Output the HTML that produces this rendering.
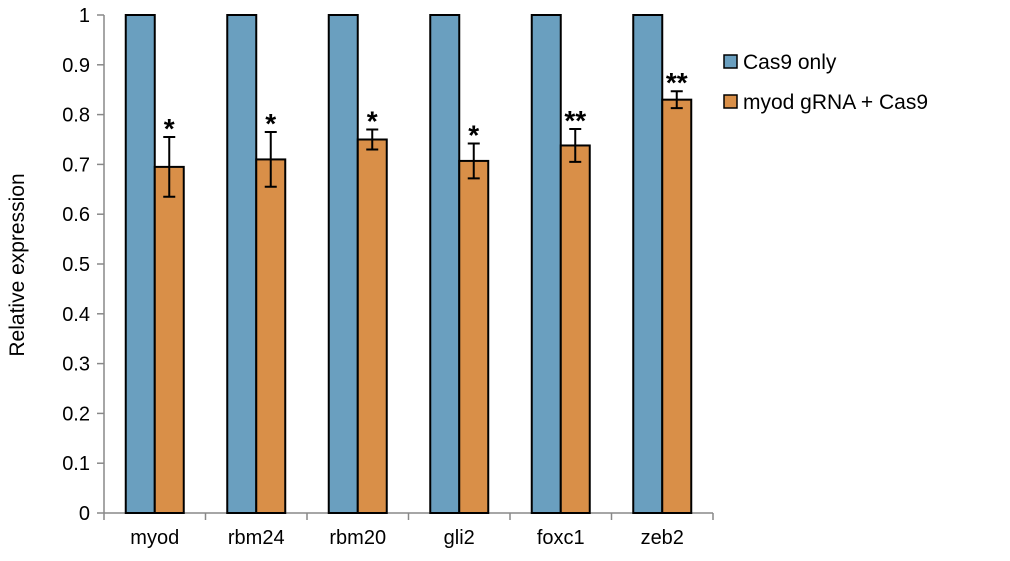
<!DOCTYPE html>
<html><head><meta charset="utf-8"><style>
body{margin:0;background:#fff}
svg text{font-family:"Liberation Sans",Arial,sans-serif;fill:#000}
</style></head><body>
<svg id="c" width="1010" height="556"></svg>
<script>
const categories=["myod","rbm24","rbm20","gli2","foxc1","zeb2"];
const cas9Values=[1,1,1,1,1,1];
const gRNAValues=[0.695,0.71,0.75,0.707,0.738,0.83];
const gRNAErrors=[0.06,0.055,0.02,0.035,0.033,0.017];
const sigLabels=["*","*","*","*","**","**"];
const yTicks=[0,0.1,0.2,0.3,0.4,0.5,0.6,0.7,0.8,0.9,1];
const NS="http://www.w3.org/2000/svg";
const svg=document.getElementById('c');
const x0=104,x1=713,yTop=15,yBot=513;
const y=v=>yBot-(yBot-yTop)*v;
const bw=(x1-x0)/categories.length;
const xc=i=>x0+bw*(i+0.5);
function el(t,a,p){const e=document.createElementNS(NS,t);for(const k in a)e.setAttribute(k,a[k]);(p||svg).appendChild(e);return e;}
let ax=el('line',{x1:x0,y1:yTop,x2:x0,y2:yBot,stroke:'#888','stroke-width':1.5});


yTicks.forEach(t=>{
 let tk=el('line',{x1:x0-7,y1:y(t),x2:x0,y2:y(t),stroke:'#888','stroke-width':1.5});
 
 
 let tl=el('text',{x:x0-14,y:y(t)+7,'text-anchor':'end','font-size':20});
 tl.textContent=String(t);
 
 
});
let xa=el('line',{x1:x0,y1:yBot,x2:x1,y2:yBot,stroke:'#888','stroke-width':1.5});


for(let k=0;k<=categories.length;k++){
 let tk=el('line',{x1:x0+bw*k,y1:yBot,x2:x0+bw*k,y2:yBot+7,stroke:'#888','stroke-width':1.5});
 
 
}
categories.forEach((c,i)=>{
 const cx=xc(i),w=29;
 let b=el('rect',{x:cx-w,y:y(cas9Values[i]),width:w,height:yBot-y(cas9Values[i]),fill:'#6a9fbf',stroke:'#000','stroke-width':2});
 
 
 let o=el('rect',{x:cx,y:y(gRNAValues[i]),width:w,height:yBot-y(gRNAValues[i]),fill:'#d98f48',stroke:'#000','stroke-width':2});
 
 
 const ex=cx+w/2,hi=y(gRNAValues[i]+gRNAErrors[i]),lo=y(gRNAValues[i]-gRNAErrors[i]);
 let g=el('path',{d:`M${ex},${hi}V${lo}M${ex-6},${hi}H${ex+6}M${ex-6},${lo}H${ex+6}`,stroke:'#000','stroke-width':2,fill:'none'});
 
 
 let s=el('text',{x:ex,y:hi+1,'text-anchor':'middle','font-size':28,'font-weight':'bold'});
 s.textContent=sigLabels[i];
 
 
 let l=el('text',{x:cx,y:544,'text-anchor':'middle','font-size':20});
 l.textContent=c;
 
 
});
let yt=el('text',{x:0,y:0,transform:'translate(24,265) rotate(-90)','text-anchor':'middle','font-size':21});
yt.textContent='Relative expression';


[["Cas9 only","#6a9fbf",55],["myod gRNA + Cas9","#d98f48",95]].forEach(([t,f,yy],i)=>{
 let r=el('rect',{x:724,y:yy,width:13,height:13,fill:f,stroke:'#000','stroke-width':1.5});
 
 
 let tx=el('text',{x:743,y:yy+14,'font-size':21});
 tx.textContent=t;
 
 
});
</script>
</body></html>
